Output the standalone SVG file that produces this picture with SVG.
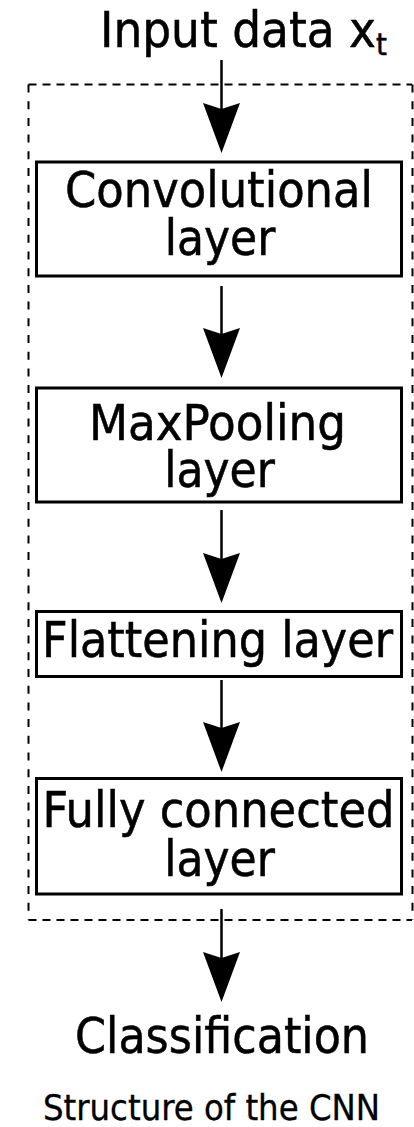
<svg xmlns="http://www.w3.org/2000/svg" xmlns:xlink="http://www.w3.org/1999/xlink" width="414" height="1127" viewBox="0 0 414 1127">
<style>
.t{font-family:"DejaVu Sans Condensed","DejaVu Sans",sans-serif;font-stretch:condensed;fill:#000;stroke:#000;stroke-width:0.5;font-size:49px;text-anchor:middle}
.box{fill:#fff;stroke:#000;stroke-width:3}
.ln{stroke:#000;stroke-width:2.5;fill:none}
.dash{stroke:#000;stroke-width:2;fill:none}
</style>
<defs>
<path id="head" d="M0,0 L-18.5,-50 L0,-44 L18.5,-50 Z" fill="#000"/>
</defs>
<rect width="414" height="1127" fill="#fff"/>
<g id="container">
<line class="dash" x1="28.5" y1="84.5" x2="412" y2="84.5" stroke-dasharray="8,6"/>
<line class="dash" x1="28.5" y1="920" x2="412" y2="920" stroke-dasharray="8,6"/>
<line class="dash" x1="28.5" y1="84.5" x2="28.5" y2="920" stroke-dasharray="8,8.7"/>
<line class="dash" x1="412.5" y1="84.5" x2="412.5" y2="920" stroke-dasharray="8,8.7" stroke-width="1.2"/>
</g>
<g id="connectors">
<line class="ln" x1="221.5" y1="60" x2="221.5" y2="110"/>
<use xlink:href="#head" x="221.5" y="153"/>
<line class="ln" x1="221.5" y1="286" x2="221.5" y2="334"/>
<use xlink:href="#head" x="221.5" y="378"/>
<line class="ln" x1="221.5" y1="510" x2="221.5" y2="559"/>
<use xlink:href="#head" x="221.5" y="603"/>
<line class="ln" x1="221.5" y1="680" x2="221.5" y2="728"/>
<use xlink:href="#head" x="221.5" y="772"/>
<line class="ln" x1="221.5" y1="909" x2="221.5" y2="958"/>
<use xlink:href="#head" x="221.5" y="1002"/>
</g>
<g id="input">
<text class="t" x="100" y="46.5" style="text-anchor:start" textLength="276" lengthAdjust="spacingAndGlyphs">Input data x</text>
<text class="t" x="376" y="55" style="text-anchor:start;font-size:31px">t</text>
</g>
<g id="conv">
<rect class="box" x="36.5" y="162" width="365" height="114"/>
<text class="t" x="219" y="207" textLength="308" lengthAdjust="spacingAndGlyphs">Convolutional</text>
<text class="t" x="220" y="255">layer</text>
</g>
<g id="maxpool">
<rect class="box" x="36.5" y="388" width="365" height="114"/>
<text class="t" x="217.5" y="440" textLength="257" lengthAdjust="spacingAndGlyphs">MaxPooling</text>
<text class="t" x="219.5" y="487">layer</text>
</g>
<g id="flatten">
<rect class="box" x="36.5" y="611.5" width="365" height="65"/>
<text class="t" x="217.5" y="657" textLength="351" lengthAdjust="spacingAndGlyphs">Flattening layer</text>
</g>
<g id="fc">
<rect class="box" x="36.5" y="778.5" width="365" height="115.5"/>
<text class="t" x="218.5" y="827" textLength="352" lengthAdjust="spacingAndGlyphs">Fully connected</text>
<text class="t" x="219.5" y="876">layer</text>
</g>
<g id="output">
<text class="t" x="222" y="1053" textLength="294" lengthAdjust="spacingAndGlyphs">Classification</text>
</g>
<g id="caption">
<text class="t" x="211.5" y="1120" style="font-size:35px;stroke-width:0.3" textLength="337" lengthAdjust="spacingAndGlyphs">Structure of the CNN</text>
</g>
</svg>
